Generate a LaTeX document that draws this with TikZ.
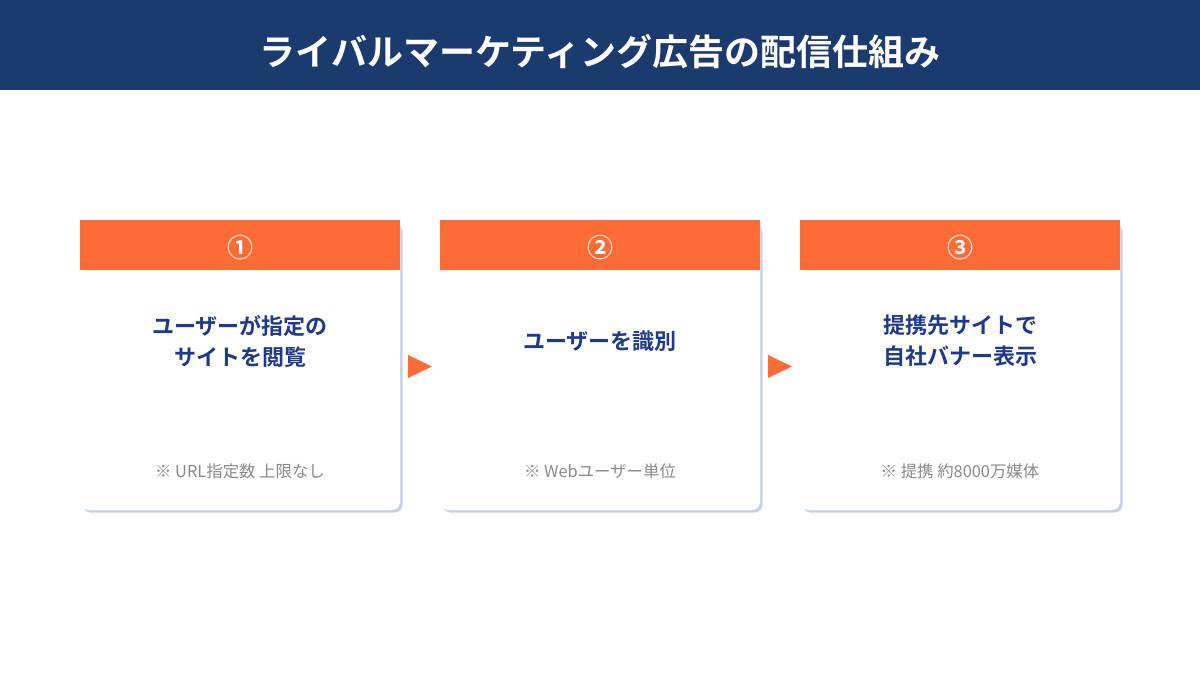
\documentclass[tikz,border=0pt]{standalone}
\usepackage{fontspec}
\setmainfont{Noto Sans CJK JP}
\newfontfamily\jpbold{Noto Sans CJK JP Bold}
\definecolor{navy}{HTML}{1B3A6E}
\definecolor{orng}{HTML}{FF6B35}
\definecolor{tblue}{HTML}{1F3A8A}
\definecolor{shadowc}{HTML}{C5D3E8}
\definecolor{notec}{HTML}{8A8A8A}
\tikzset{
  card/.style={fill=white, rounded corners=8pt},
  cardshadow/.style={fill=shadowc, rounded corners=8pt},
  hdr/.style={fill=orng},
  numtext/.style={text=white, font=\jpbold\fontsize{26}{30}\selectfont},
  maintext/.style={text=tblue, font=\jpbold\fontsize{22}{31}\selectfont, align=center},
  notetext/.style={text=notec, font=\fontsize{16.4}{19}\selectfont},
  arrowtri/.style={fill=orng, draw=none}
}
\begin{document}
\begin{tikzpicture}[x=1pt,y=-1pt]
\useasboundingbox (0,0) rectangle (1200,675);
\fill[white] (0,0) rectangle (1200,675);
\fill[navy] (0,0) rectangle (1200,90);
\node[text=white, font=\jpbold\fontsize{36}{40}\selectfont] (title) at (600,52) {ライバルマーケティング広告の配信仕組み};
\foreach \i/\x/\num/\main/\note in {1/80/①/{ユーザーが指定の\\サイトを閲覧}/{※ URL指定数 上限なし}, 2/440/②/{ユーザーを識別}/{※ Webユーザー単位}, 3/800/③/{提携先サイトで\\自社バナー表示}/{※ 提携 約8000万媒体}}{
  \fill[cardshadow] (\x+2.5,224) rectangle (\x+322.5,512.5);
  \fill[card] (\x,220) rectangle (\x+320,510);
  \fill[hdr] (\x,220) rectangle (\x+320,270);
  \node[numtext] (num\i) at (\x+160,248) {\num};
  \node[maintext] (main\i) at (\x+160,341) {\main};
  \node[notetext] (note\i) at (\x+160,471) {\note};
}
\fill[arrowtri] (408,355) -- (432,366.5) -- (408,378) -- cycle;
\fill[arrowtri] (768,355) -- (792,366.5) -- (768,378) -- cycle;
\end{tikzpicture}
\end{document}
